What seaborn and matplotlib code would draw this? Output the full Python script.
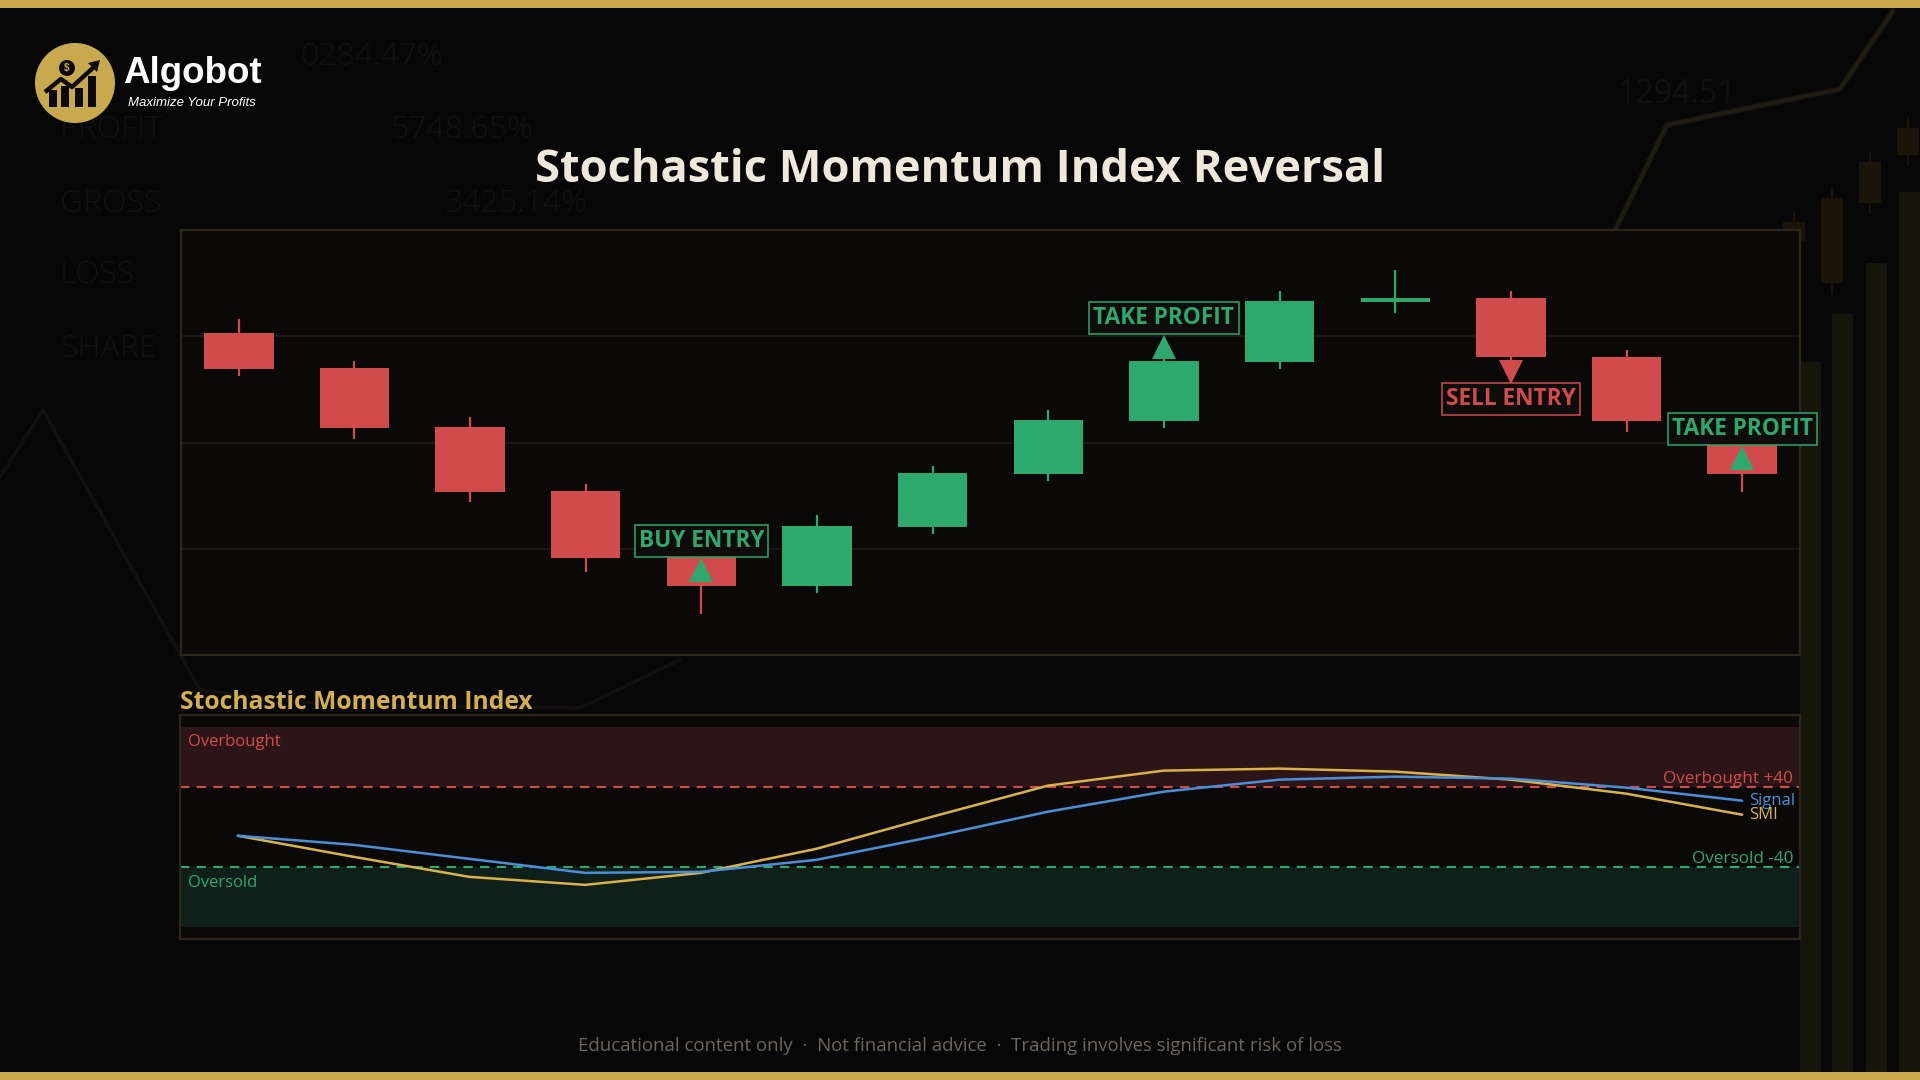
import numpy as np
import pandas as pd
import seaborn as sns
import matplotlib.pyplot as plt
import matplotlib.transforms as mtransforms
from matplotlib.patches import Circle, Rectangle, Polygon

# ---- data ----
candle_idx = list(range(14))
opens  = [75.8, 67.5, 53.6, 38.6, 23.1, 16.3, 30.2, 42.7, 55.1, 69.0, 83.1, 84.0, 70.1, 50.6]
highs  = [79.1, 69.2, 56.0, 40.2, 24.2, 32.9, 44.5, 57.6, 70.1, 85.6, 90.6, 85.6, 71.8, 56.9]
lows   = [65.7, 50.8, 36.1, 19.6,  9.6, 14.7, 28.5, 41.0, 53.5, 67.4, 80.5, 69.2, 52.5, 38.4]
closes = [67.3, 53.4, 38.4, 22.8, 16.3, 30.4, 42.8, 55.3, 69.2, 83.3, 84.0, 70.1, 55.1, 42.7]

smi    = [-9, -30, -50, -58, -46, -22, 10, 41, 56, 58, 55, 47, 33, 12]
signal = [-9, -18, -32, -46, -45, -33, -10, 15, 35, 47, 50, 48, 39, 26]

sig_idx  = [4, 8, 11, 13]
sig_y    = [19.9, 72.5, 66.5, 46.3]
sig_text = ['BUY ENTRY', 'TAKE PROFIT', 'SELL ENTRY', 'TAKE PROFIT']
sig_dir  = ['up', 'up', 'down', 'up']

ob_level, os_level = 40, -40

# colours
BG = '#080707'
PANEL = '#0A0908'
GOLD = '#C9A94D'
RED = '#D24B4C'
GREEN = '#2DA96D'
BLUE = '#4A8FDA'
SMI_C = '#D9B248'
EDGE = '#2C2718'

sns.set_theme(style='dark')
plt.rcParams['font.family'] = ['Open Sans', 'DejaVu Sans']

fig = plt.figure(figsize=(19.2, 10.8), dpi=100, facecolor=BG)

# ---- background decoration (pixel coords) ----
bax = fig.add_axes([0, 0, 1, 1], zorder=-10)
bax.set_xlim(0, 1920)
bax.set_ylim(1080, 0)
bax.axis('off')
bax.set_facecolor(BG)

ghost = '#131210'
for s, x, y in [('PROFIT', 60, 138), ('GROSS', 60, 212),
                ('LOSS', 60, 283), ('SHARE', 60, 357), ('0284.47%', 300, 65),
                ('5748.65%', 391, 138), ('3425.14%', 444, 212)]:
    bax.text(x, y, s, color=ghost, fontsize=23, fontweight='light', va='baseline')
bax.text(1617, 103, '1294.51', color='#131110', fontsize=23, va='baseline')

bax.plot([0, 43, 200, 330, 580, 680], [477, 410, 690, 705, 708, 660], color='#121110', lw=2.5)
bax.plot([1610, 1667, 1840, 1893], [240, 125, 89, 11], color='#19170F', lw=4)
bax.plot([1610, 1667, 1840, 1893], [240, 125, 89, 11], color='#221E15', lw=1.5)

for x0, top in [(1800, 362), (1832, 314), (1866, 263), (1899, 192)]:
    bax.add_patch(Rectangle((x0, top), 21, 1072 - top, color='#16150A', lw=0))
for xc, t, b in [(1794, 222, 241), (1832, 198, 283), (1870, 162, 203), (1908, 128, 155)]:
    bax.add_patch(Rectangle((xc - 11, t), 22, b - t, color='#1A1409', lw=0))
    bax.plot([xc, xc], [t - 10, b + 10], color='#1A1409', lw=1.5)

# gold bars
bax.add_patch(Rectangle((0, 0), 1920, 8, color=GOLD, lw=0))
bax.add_patch(Rectangle((0, 1072), 1920, 8, color=GOLD, lw=0))

# logo
bax.add_patch(Circle((75, 83), 40, color=GOLD, lw=0, zorder=5))
for x0, top in [(49, 90), (61, 86), (75, 88), (88, 76)]:
    bax.add_patch(Rectangle((x0, top), 8, 107 - top, color='#0B0A08', lw=0, zorder=6))
bax.plot([45, 61, 72, 95], [92, 79, 87, 66], color='#0B0A08', lw=3.2, zorder=6,
         solid_capstyle='butt')
bax.add_patch(Polygon([[100, 60], [88, 63], [97, 72]], color='#0B0A08', lw=0, zorder=6))
bax.add_patch(Circle((67, 68), 8, color='#0B0A08', lw=0, zorder=6))
bax.text(67, 68.5, '$', color=GOLD, fontsize=7, fontweight='bold', ha='center',
         va='center', zorder=7, family=['Liberation Sans', 'DejaVu Sans'])

fig.text(123 / 1920, 1 - 83 / 1080, 'Algobot', color='white', fontsize=26.5,
         fontweight='bold', va='baseline', family=['Liberation Sans', 'DejaVu Sans'])
fig.text(128 / 1920, 1 - 106 / 1080, 'Maximize Your Profits', color='white',
         fontsize=9.5, style='italic', va='baseline', family=['Liberation Sans', 'DejaVu Sans'])

# title
fig.text(0.4998, 1 - 182 / 1080, 'Stochastic Momentum Index Reversal', color='#EFE9DC',
         fontsize=32.6, fontweight='bold', ha='center', va='baseline')

# ---- price panel ----
ax = fig.add_axes([181 / 1920, 1 - 655 / 1080, 1619 / 1920, 425 / 1080])
ax.set_facecolor(PANEL)
df = pd.DataFrame({'i': candle_idx, 'open': opens, 'high': highs, 'low': lows, 'close': closes})
df['color'] = np.where(df['close'] >= df['open'], GREEN, RED)
df['body_lo'] = df[['open', 'close']].min(axis=1)
df['body_h'] = (df['close'] - df['open']).abs()

ax.vlines(df['i'], df['low'], df['high'], colors=df['color'], lw=1.6, zorder=2)
ax.bar(df['i'], df['body_h'], bottom=df['body_lo'], width=0.6, color=df['color'],
       lw=0, zorder=3)

for i, y, txt, d in zip(sig_idx, sig_y, sig_text, sig_dir):
    c = RED if d == 'down' else GREEN
    ax.plot(i, y, marker='^' if d == 'up' else 'v', ms=17, color=c, mew=0, zorder=5)
    off = 21 if d == 'up' else -19
    ax.annotate(txt, xy=(i, y), xytext=(0, off), textcoords='offset points',
                ha='center', va='center', color=c, fontsize=16.3, fontweight='bold',
                zorder=6, bbox=dict(boxstyle='square,pad=0.18', fc='#0F0D0B', ec=c, lw=1.1))

ax.set_xlim(-0.5, 13.5)
ax.set_ylim(0, 100)
ax.set_yticks([25, 50, 75])
ax.set_xticks([])
ax.tick_params(left=False, labelleft=False, bottom=False, labelbottom=False)
ax.grid(axis='y', color='#1D1B18', lw=1.2)
ax.grid(axis='x', visible=False)
ax.set_axisbelow(True)
for sp in ax.spines.values():
    sp.set_color(EDGE)
    sp.set_linewidth(1.6)
    sp.set_visible(True)

# ---- SMI panel ----
fig.text(180 / 1920, 1 - 709 / 1080, 'Stochastic Momentum Index', color='#D4AF50',
         fontsize=17.7, fontweight='bold', va='baseline')

ax2 = fig.add_axes([180 / 1920, 1 - 939 / 1080, 1620 / 1920, 224.5 / 1080])
ax2.set_facecolor(PANEL)
ax2.axhspan(ob_level, 100, color='#2C1517', lw=0, zorder=0)
ax2.axhspan(-100, os_level, color='#0F1F19', lw=0, zorder=0)
ax2.axhline(ob_level, color=RED, lw=1.5, dashes=(4.5, 3.5), zorder=1)
ax2.axhline(os_level, color=GREEN, lw=1.5, dashes=(4.5, 3.5), zorder=1)

sdf = pd.DataFrame({'i': candle_idx, 'smi': smi, 'signal': signal})
sns.lineplot(data=sdf, x='i', y='smi', color=SMI_C, lw=1.8, ax=ax2, zorder=3)
sns.lineplot(data=sdf, x='i', y='signal', color=BLUE, lw=1.8, ax=ax2, zorder=4)

ax2.annotate('Signal', xy=(candle_idx[-1], signal[-1]), xytext=(5, 0),
             textcoords='offset points', color=BLUE, fontsize=12, va='center')
ax2.annotate('SMI', xy=(candle_idx[-1], smi[-1]), xytext=(5, 0),
             textcoords='offset points', color=SMI_C, fontsize=12, va='center')

tr = mtransforms.blended_transform_factory(ax2.transAxes, ax2.transData)
ax2.text(0.005, 84.6, 'Overbought', color=RED, fontsize=12, va='center', transform=tr)
ax2.text(0.005, -56, 'Oversold', color=GREEN, fontsize=12, va='center', transform=tr)
ax2.text(0.9957, 47.6, 'Overbought +40', color=RED, fontsize=12.3, va='center', ha='right', transform=tr)
ax2.text(0.9957, -32.4, 'Oversold -40', color=GREEN, fontsize=12.3, va='center', ha='right', transform=tr)

ax2.set_xlim(-0.5, 13.5)
ax2.set_ylim(-112, 112)
ax2.set_xlabel('')
ax2.set_ylabel('')
ax2.set_xticks([])
ax2.set_yticks([])
ax2.grid(False)
for sp in ax2.spines.values():
    sp.set_color(EDGE)
    sp.set_linewidth(1.6)
    sp.set_visible(True)

# footer
fig.text(0.5, 1 - 1051 / 1080,
         'Educational content only  \u00b7  Not financial advice  \u00b7  Trading involves significant risk of loss',
         color='#6B665E', fontsize=13.4, ha='center', va='baseline')

fig.savefig('out.png', dpi=100, facecolor=BG)
